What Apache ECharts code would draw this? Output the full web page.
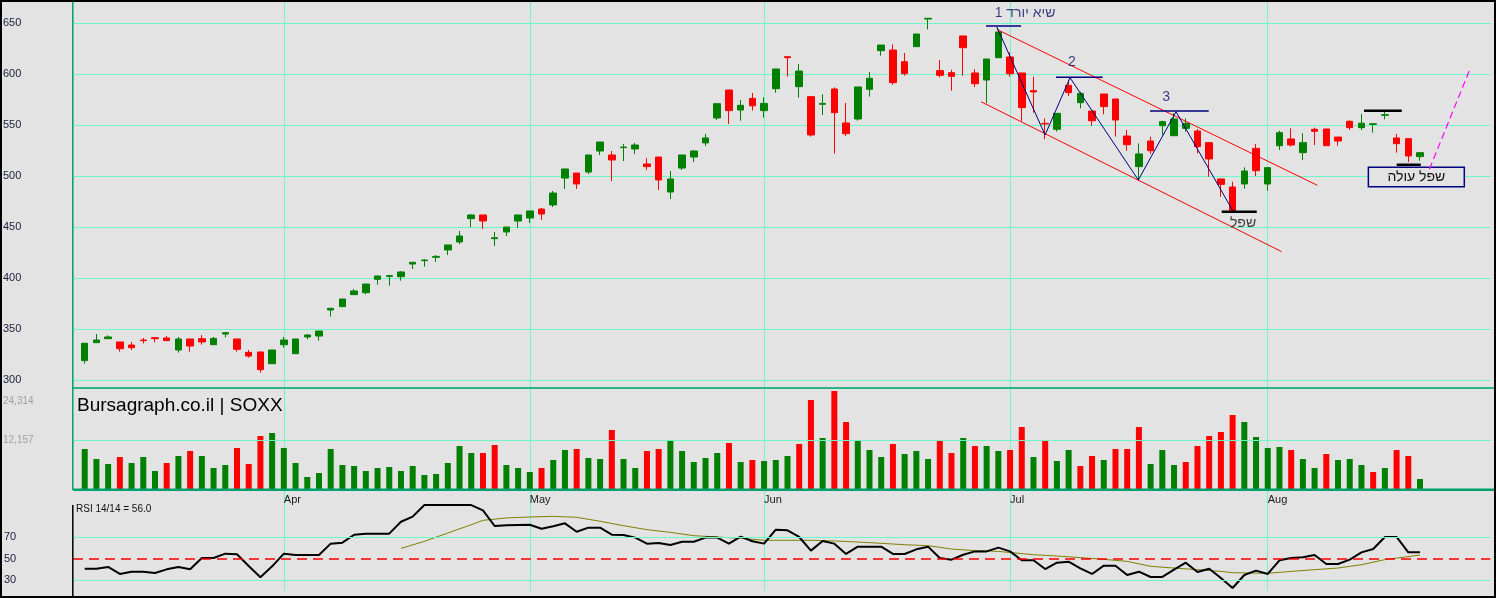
<!DOCTYPE html>
<html>
<head>
<meta charset="utf-8">
<script src="https://cdn.jsdelivr.net/npm/echarts@6/dist/echarts.min.js"></script>
<style>
html,body{margin:0;padding:0;background:#e3e3e3;}
#c{width:1496px;height:598px;}
</style>
</head>
<body>
<div id="c"></div>
<script>
// ---------- DATA ----------
const opens  = [319,336.6,340.5,337.3,334.3,339.2,341.5,341.2,329.4,340.2,340.5,334.6,345.1,340.2,327.1,327.5,316,334.6,325.8,342.2,
  343.1,368.6,371.9,383.7,385.6,398.7,401.6,401.3,413.7,417.0,420.3,427.5,435.3,458.2,461.8,438.6,445.1,455.9,458.8,467.6,
  471.6,498,502.9,503.9,524.5,520.6,527.8,526.5,511.8,518.6,484.3,507.8,518.6,532.4,556.9,584.3,564.7,576.1,564.1,585.6,
  617,587.6,577.8,570.3,585.3,552,555.9,585,622.9,623.5,612.1,626.8,653.9,603.3,601.3,637.3,601,594.1,616,616.7,
  601,583.7,551.6,545.8,588.9,571.9,563.7,580.4,575.5,539.2,509.2,534.3,549.3,539.5,546.7,544.1,532.7,497.1,489.2,492.2,
  527.1,492.2,529.7,536.3,522.9,545.8,546.1,538.2,553.6,547.4,550.6,559.5,537.3,536.6,519];
const highs  = [336,345.1,343.8,337.3,337.3,341.2,341.5,343.1,342.2,340.2,344.1,342.2,347.1,340.2,329.4,327.5,329.4,342.2,340.2,345.1,
  348,370.3,379.4,389.2,394.1,402,402.3,406.9,415.4,418.6,422.5,432.4,446.1,462.7,461.8,445.1,450,461.8,465.7,468.6,
  485.3,506.9,502.9,520.6,533.3,524.5,531.4,532.4,517.6,518.6,504.9,520.6,525.5,541.2,570.9,584.3,574.5,581.4,577.1,604.9,
  617,609.8,577.8,580.1,586.9,571.6,587.3,602,628.4,629.1,620.6,639.2,654.6,613.7,604.2,637.3,604.6,614.7,643.8,621.2,
  601,597.4,556.5,561.4,594.1,582.7,563.7,580.4,575.5,545.1,532,538.6,554.2,561.4,556.5,546,532.7,497.1,494.4,508.5,
  531.4,508.2,544.4,546.7,541.8,547.4,546.1,538.2,554.6,560.8,551.6,562.7,541.2,536.6,522.9];
const lows   = [316,336.6,340.5,327.8,329.4,335.9,336.9,338.6,326.8,327.8,334.6,334.6,341.8,327.8,321.9,307.2,316,331.7,325.8,339.9,
  338.6,362.1,371.9,383.7,384,393.5,392.5,397.4,408.8,411.1,415.7,422.5,433.3,450,448,431.4,441.2,449,453.9,456.9,
  469.6,487.3,487.3,502,520.6,495,514.7,521.6,505.9,486.3,477.5,505.9,513.7,529.4,554.9,551,554.2,564.1,557.2,581.7,
  597.4,576.8,538.6,559.8,521.9,539.2,554.2,577.8,618,589.5,598.4,626.8,643.8,596.7,583.6,598.4,587.3,571.2,616,597.4,
  553.6,562.1,536,543.5,578.4,566.3,549.3,560.5,538.6,524.8,495.4,521.6,540.2,539.5,543.5,522.2,499.3,479.7,465,487.6,
  500,485.6,525.5,528.8,515.7,530.4,529.7,529.7,545.1,545.1,542.5,555.6,522.9,513.7,515];
const closes = [336,339.2,342.2,330.7,331.7,338.6,340.5,338.6,340.2,333.3,337.3,340.8,346.4,330.1,323.5,310.1,329.4,339.2,340.2,344.1,
  348,370.3,379.4,387.3,394.1,402,402.3,405.9,415.4,417.6,421.2,432.4,441.2,461.8,455.9,439.5,450,461.8,465.7,462.7,
  483.3,506.9,492.2,520.6,533.3,515.7,528.4,530.4,509.2,496.1,497.1,520.6,524.5,537.3,570.9,564.1,569.3,568.8,571.2,604.9,
  616,602.9,540.2,571.2,562.1,541.5,587.3,595.8,628.4,591.5,600.3,639.2,654.6,598.7,597.7,625.8,590.5,614.7,641.2,600.3,
  567,582.4,551,561.4,581.7,581.0,554.2,568,554.9,530.7,521.6,524.8,553.3,555.9,551.6,528.8,516.7,491.8,466,504.9,
  505.2,508.2,542.5,530.4,532.7,543.8,529.7,534.3,547.4,551.8,551.2,560.1,531.7,519.6,522.9];
const volumes = [9969,7538,6322,8024,6565,8024,4620,6565,8267,9483,8267,5349,6079,10212,6322,13130,13860,10212,6565,3161,
  4134,9969,6079,5836,4620,5349,5592,4620,5836,3647,3890,6565,10699,8997,8997,10942,6079,5349,4377,5349,
  7295,9726,9969,7781,7538,14589,7538,5349,9483,9969,12157,9483,6808,7781,8997,11428,6808,7295,7051,7295,
  8267,11185,21884,12644,24072,16534,11914,9726,8024,11185,8753,9483,7538,12157,8997,12644,10699,10699,9483,9726,
  15318,8024,11914,7051,9726,5836,8267,7295,9969,9969,15318,6322,9726,6079,6808,10699,13130,14103,18236,16534,
  12887,10212,10455,9726,7538,5349,8753,7295,7538,6079,4377,5349,9726,8267,2675];
const rsi = [40.8,40.8,42.4,35.9,38.0,38.0,36.8,40.2,42.4,40.2,50.7,50.7,54.8,54.2,43.3,32.8,43.0,54.8,53.5,53.5,
  53.5,64.1,65.0,72.4,73.4,73.4,73.4,84.5,89.2,100,100,100,100,100,95.1,80.5,81.1,81.4,81.7,78.0,
  80.2,83.0,75.2,79.0,79.0,72.4,72.1,69.7,64.1,64.7,62.8,65.9,65.9,69.7,69.7,64.1,70.6,66.3,64.1,77.1,
  76.5,70.3,57.6,66.6,64.1,54.5,61.3,61.3,61.3,54.5,54.5,58.8,61.3,50.7,49.2,53.8,56.9,56.9,60.4,56.9,
  48.6,48.6,40.5,46.4,47.3,41.1,35.9,43.6,43.6,34.9,38.0,33.1,33.1,39.9,46.4,37.7,40.8,32.1,22.8,34.9,
  39.0,35.9,48.6,50.7,51.4,53.5,45.2,45.2,49.2,56.0,59.1,70.3,70.3,56.0,56.0];
// smoothed RSI signal line, read at sampled bars: [bar index, value]
const rsiSignal = [[27,59.7],[29,66.2],[31,74.0],[33,81.7],[34,85.8],[36,88.0],[38,88.9],[40,89.5],[42,88.6],[44,84.9],
  [46,80.8],[48,77.1],[50,74.6],[52,71.5],[54,70.3],[56,69.0],[58,67.2],[62,67.2],[64,66.6],[66,65.6],[68,64.4],
  [70,63.1],[72,62.2],[74,59.1],[76,57.6],[78,56.9],[81,53.8],[83,52.6],[85,51.1],[87,49.5],[89,47.6],[91,43.0],
  [93,41.4],[95,39.9],[97,38.3],[98,37.1],[101,36.5],[103,38.3],[105,39.9],[107,41.4],[109,44.5],[111,49.2],[114,53.5]];
const monthLabels = ['Apr','May','Jun','Jul','Aug'];
const monthStarts = [17,38,58,79,101];   // bar index of first trading day
const volumeTicks = [12157, 24314];
const rsiLevels = [30, 50, 70];
// annotations, in [bar index, price]
const channelUpper = [[77.86,643.8],[105.23,490.9]];
const channelLower = [[76.52,572.8],[102.19,425.8]];
const zigzag = [[77.86,646.4],[81.99,540.2],[84.12,596.4],[89.95,496.1],[93.17,563.0],[98.12,464.0]];
const peakLines = [[[76.95,647.1],[79.94,647.1]],[[82.92,596.7],[86.91,596.7]],[[90.95,563.7],[95.96,563.7]]];
const levelLines = [[[97.07,465.0],[100.06,465.0]],[[109.22,564.0],[112.44,564.0]],[[112.01,511.1],[114.06,511.1]]];
const projection = [[114.8,506.6],[118.3,605.9]];
const navyNotes = [{name:'שיא יורד 1', value:[80.28,659.5]},{name:'2', value:[84.27,611.5]},{name:'3', value:[92.32,577.2]}];
const blackNotes = [{name:'שפל', value:[98.89,453.6]}];
const risingLowBox = {text:'שפל עולה', from:[109.59,508.5], to:[117.78,489.5]};

// ---------- STYLE ----------
const UP = '#008000', DOWN = '#ff0000', GRID = '#6ef7c7', FRAME = '#00a070', NAVY = '#10106a';
const FONT = '"Liberation Sans", Arial, sans-serif';
const SLOTS = 122; // one leading empty slot + bars + empty future slots
const cats = Array.from({length: SLOTS}, (_, k) => String(k - 1));
const monthCat = monthStarts.map(i => i + 1);
const isMonth = idx => monthCat.indexOf(idx) >= 0;

const candleData = [['-','-','-','-']].concat(opens.map((o, i) => [o, closes[i], lows[i], highs[i]]));
const volData = ['-'].concat(volumes.map((v, i) => ({
  value: v,
  itemStyle: {color: (i === 0 ? closes[i] >= opens[i] : closes[i] >= closes[i - 1]) ? UP : DOWN}
})));
const rsiData = ['-'].concat(rsi);
const signalData = rsiSignal.map(p => [p[0] + 1, p[1]]);

const gridCommon = {left: 73, right: 5.7};
const catAxis = (gi, extra) => Object.assign({
  type: 'category', gridIndex: gi, data: cats, boundaryGap: false,
  axisLine: {show: false}, axisTick: {show: false}, axisLabel: {show: false},
  splitLine: {show: true, interval: (idx) => isMonth(idx), lineStyle: {color: GRID, width: 1}}
}, extra || {});

const annLine = (data, color, width, type) => ({
  type: 'line', xAxisIndex: 1, yAxisIndex: 0, data: data, symbol: 'none', silent: true,
  lineStyle: {color: color, width: width, type: type || 'solid'}, z: 5, animation: false
});

const series = [
  {
    type: 'candlestick', xAxisIndex: 0, yAxisIndex: 0, data: candleData, barWidth: 7,
    itemStyle: {color: UP, color0: DOWN, borderColor: UP, borderColor0: DOWN, borderWidth: 1},
    silent: true
  },
  {
    type: 'bar', xAxisIndex: 2, yAxisIndex: 1, data: volData, barWidth: 6, silent: true,
    markLine: {silent: true, symbol: ['none','none'], label: {show: false},
      lineStyle: {color: GRID, width: 1, type: 'solid'}, data: [{yAxis: volumeTicks[0]}]}
  },
  {
    type: 'line', xAxisIndex: 3, yAxisIndex: 2, data: rsiData, symbol: 'none', silent: true, z: 4,
    lineStyle: {color: '#000', width: 2},
    markLine: {silent: true, symbol: ['none','none'], label: {show: false},
      data: [
        {yAxis: rsiLevels[0], lineStyle: {color: GRID, width: 1, type: 'solid'}},
        {yAxis: rsiLevels[2], lineStyle: {color: GRID, width: 1, type: 'solid'}},
        {yAxis: rsiLevels[1], lineStyle: {color: '#ff0000', width: 1.5, type: [10, 6]}}
      ]}
  },
  {
    type: 'line', xAxisIndex: 3, yAxisIndex: 2, data: signalData, symbol: 'none', silent: true, z: 3,
    lineStyle: {color: '#808000', width: 1}
  },
  annLine(channelUpper, '#ff0000', 1),
  annLine(channelLower, '#ff0000', 1),
  annLine(zigzag, '#000080', 1),
  annLine(projection, '#ff00ff', 1.2, [7, 4])
];
peakLines.forEach(l => series.push(annLine(l, '#000080', 1.5)));
levelLines.forEach(l => series.push(annLine(l, '#000', 2.5)));
series.push({
  type: 'scatter', xAxisIndex: 1, yAxisIndex: 0, data: navyNotes, symbolSize: 1, silent: true, z: 6,
  itemStyle: {color: 'rgba(0,0,0,0)'},
  label: {show: true, position: 'inside', formatter: '{b}', color: NAVY, fontSize: 14, fontFamily: FONT}
});
series.push({
  type: 'scatter', xAxisIndex: 1, yAxisIndex: 0, data: blackNotes, symbolSize: 1, silent: true, z: 6,
  itemStyle: {color: 'rgba(0,0,0,0)'},
  label: {show: true, position: 'inside', formatter: '{b}', color: '#111', fontSize: 14, fontFamily: FONT},
  markArea: {
    silent: true,
    itemStyle: {color: '#e3e3e3', borderColor: '#000080', borderWidth: 1.5},
    label: {show: true, position: 'inside', color: '#111', fontSize: 14, fontFamily: FONT},
    data: [[{name: risingLowBox.text, coord: risingLowBox.from}, {coord: risingLowBox.to}]]
  }
});

const option = {
  animation: false,
  backgroundColor: '#e3e3e3',
  textStyle: {fontFamily: FONT},
  title: [
    {text: 'Bursagraph.co.il | SOXX', left: 77, top: 396, padding: 0,
      textStyle: {fontSize: 19, fontWeight: 'normal', color: '#000', fontFamily: FONT}},
    {text: 'RSI 14/14 = ' + rsi[rsi.length - 1].toFixed(1), left: 76, top: 504, padding: 0,
      textStyle: {fontSize: 10, fontWeight: 'normal', color: '#111', fontFamily: FONT}}
  ],
  grid: [
    Object.assign({top: 0, bottom: 598 - 388}, gridCommon),
    Object.assign({top: 388, bottom: 598 - 490}, gridCommon),
    Object.assign({top: 490, bottom: 6.95}, gridCommon)
  ],
  xAxis: [
    catAxis(0),
    {type: 'value', gridIndex: 0, min: -1, max: SLOTS - 2, show: false},
    catAxis(1),
    catAxis(2, {
      position: 'top',
      axisLabel: {show: true, inside: true, interval: (idx) => isMonth(idx), margin: 4, align: 'left',
        fontSize: 11, color: '#1a1a1a', fontFamily: FONT,
        formatter: (v, idx) => monthLabels[monthCat.indexOf(idx)] || ''}
    })
  ],
  yAxis: [
    {type: 'value', gridIndex: 0, min: 300 - 8 / 1.02, max: 300 + 380 / 1.02, splitNumber: 8,
      minInterval: 50, maxInterval: 50,
      axisLine: {show: false, onZero: false}, axisTick: {show: false},
      axisLabel: {align: 'left', margin: 70, fontSize: 11, color: '#1c1c3c', fontFamily: FONT,
        formatter: v => (Math.abs(v % 50) < 1e-6 ? String(v) : '')},
      splitLine: {show: true, lineStyle: {color: GRID, width: 1}}},
    {type: 'value', gridIndex: 1, min: 0, max: 24800, interval: volumeTicks[0],
      axisLine: {show: false, onZero: false}, axisTick: {show: false},
      axisLabel: {align: 'left', margin: 70, fontSize: 10, color: '#a0a0a4', fontFamily: FONT,
        formatter: v => v === volumeTicks[0] ? '12,157' : (v === volumeTicks[1] ? '{t|24,314}' : ''),
        rich: {t: {padding: [23, 0, 0, 0], fontSize: 10, color: '#a0a0a4', fontFamily: FONT}}},
      splitLine: {show: false}},
    {type: 'value', gridIndex: 2, min: 20, max: 114, interval: 10,
      axisLine: {show: false, onZero: false}, axisTick: {show: false},
      axisLabel: {align: 'left', margin: 69, fontSize: 11, color: '#1c1c3c', fontFamily: FONT,
        formatter: v => rsiLevels.indexOf(v) >= 0 ? String(v) : ''},
      splitLine: {show: false}}
  ],
  graphic: [
    {type: 'line', z: 50, silent: true, shape: {x1: 72.8, y1: 1, x2: 72.8, y2: 490}, style: {stroke: FRAME, lineWidth: 1.5}},
    {type: 'line', z: 50, silent: true, shape: {x1: 73, y1: 388, x2: 1494, y2: 388}, style: {stroke: FRAME, lineWidth: 1.5}},
    {type: 'line', z: 50, silent: true, shape: {x1: 73, y1: 489.8, x2: 1494, y2: 489.8}, style: {stroke: FRAME, lineWidth: 2.5}},
    {type: 'line', z: 50, silent: true, shape: {x1: 72.8, y1: 505, x2: 72.8, y2: 597}, style: {stroke: '#000', lineWidth: 1.5}},
    {type: 'rect', z: 60, silent: true, shape: {x: 1, y: 1, width: 1494, height: 596}, style: {fill: 'none', stroke: '#000', lineWidth: 2}}
  ],
  series: series
};

const chart = echarts.init(document.getElementById('c'), null, {renderer: 'canvas'});
chart.setOption(option);
</script>
</body>
</html>
